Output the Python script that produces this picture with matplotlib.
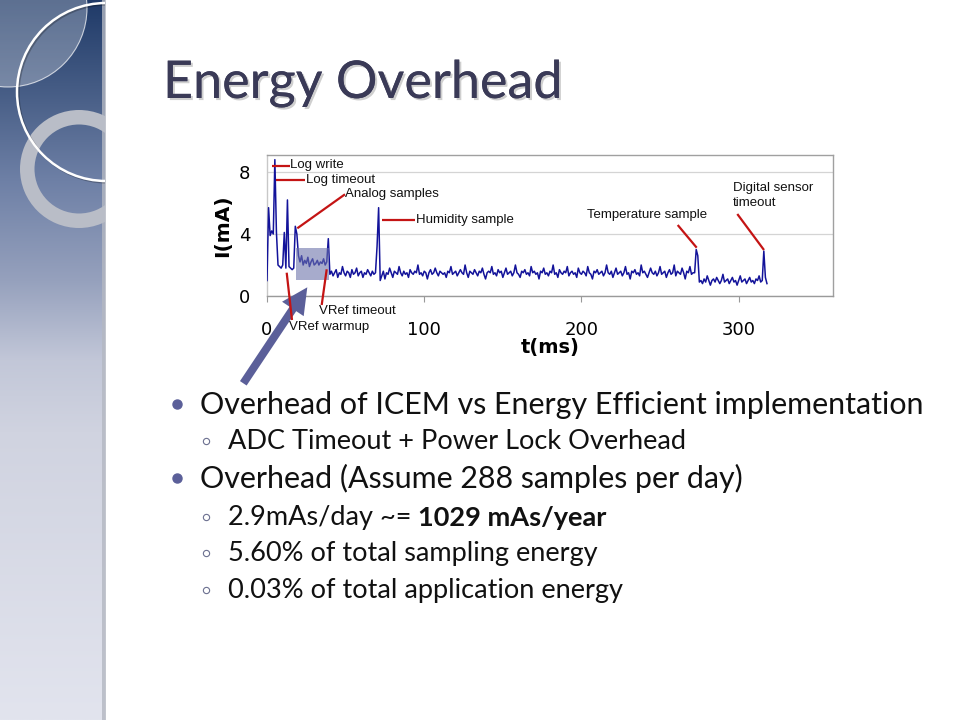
import numpy as np
import matplotlib
matplotlib.use("Agg")
import matplotlib.pyplot as plt
from matplotlib import patches, patheffects

# ---------------- data ----------------
startup_ma = [1.0, 5.7, 3.9, 4.2, 4.0, 8.8, 4.1, 2.0, 1.9, 1.8, 2.0, 4.1, 1.8,
              6.2, 1.9, 1.8, 1.7, 1.8, 4.5, 4.0, 2.6]
vref_warmup_ma = [2.2, 2.6, 2.0, 2.3, 2.1, 2.5, 1.9, 2.2, 2.4, 2.0, 2.1, 2.3,
                  2.0, 2.2, 2.1, 2.4, 2.0, 2.2]
vref_timeout_ma = [3.7]
idle_a_ma = [1.4, 1.6, 1.3, 1.5, 1.7, 1.2, 1.5, 1.4, 1.9, 1.5, 1.3, 1.6, 1.5,
             1.2, 1.7, 1.4, 1.5, 1.8, 1.3, 1.5, 1.6, 1.2, 1.5, 1.4, 1.7, 1.5,
             1.3, 1.6, 1.4, 1.5]
humidity_ma = [3.2, 5.7, 1.0]
idle_b_ma = [
    1.3, 1.6, 1.1, 1.5, 1.4, 1.8, 1.5, 1.2, 1.6, 1.5, 1.4, 1.9, 1.5, 1.3, 1.6, 1.4, 1.5, 1.2, 1.7, 1.5,
    1.4, 1.6, 1.5, 2.0, 1.4, 1.5, 1.3, 1.6, 1.5, 1.1, 1.5, 1.7, 1.4, 1.5, 1.8, 1.5, 1.3, 1.6, 1.5, 1.4,
    1.5, 1.2, 1.6, 1.5, 1.9, 1.4, 1.5, 1.6, 1.3, 1.5, 1.7, 1.5, 1.4, 2.0, 1.5, 1.2, 1.6, 1.5, 1.4, 1.7,
    1.5, 1.3, 1.6, 1.5, 1.8, 1.4, 1.1, 1.5, 1.6, 1.5, 1.9, 1.4, 1.5, 1.3, 1.7, 1.5, 1.6, 1.2, 1.5, 1.8,
    1.4, 1.5, 1.6, 1.3, 1.5, 2.0, 1.5, 1.4, 1.2, 1.6, 1.5, 1.7, 1.4, 1.5, 1.3, 1.9, 1.5, 1.6, 1.4, 1.5,
    1.1, 1.6, 1.5, 1.8, 1.4, 1.5, 1.3, 1.6, 1.5, 2.0, 1.4, 1.5, 1.2, 1.7, 1.5, 1.4, 1.6, 1.5, 1.9, 1.3,
    1.5, 1.6, 1.4, 1.5, 1.2, 1.8, 1.5, 1.4, 1.6, 1.5, 1.3, 1.9, 1.5, 1.4, 1.1, 1.6, 1.5, 1.7, 1.4, 1.5,
    1.6, 1.3, 1.5, 2.0, 1.5, 1.4, 1.6, 1.2, 1.5, 1.8, 1.4, 1.5, 1.6, 1.3, 1.5, 1.9, 1.4, 1.5, 1.1, 1.6,
    1.5, 1.7, 1.4, 1.5, 1.3, 2.0, 1.5, 1.6, 1.4, 1.2, 1.5, 1.8, 1.5, 1.4, 1.6, 1.3, 1.5, 1.9, 1.4, 1.5,
    1.6, 1.2, 1.5, 1.7, 1.4, 1.5, 2.0, 1.3, 1.6, 1.5, 1.4, 1.8, 1.5, 1.1, 1.6, 1.5, 1.9, 1.4, 1.5, 1.5]
temperature_ma = [3.0, 2.6, 0.9]
idle_c_ma = [
    1.0, 0.8, 1.1, 0.9, 1.3, 1.0, 0.7, 1.0, 1.1, 0.9, 1.2, 1.0, 0.8, 1.0, 1.4, 0.9, 1.0, 1.1, 0.8, 1.0,
    1.2, 0.9, 1.0, 0.7, 1.0, 1.3, 0.9, 1.0, 1.1, 0.8, 1.0, 1.2, 0.9, 1.0, 0.8, 1.1, 1.0, 1.3, 0.9, 1.0]
digital_ma = [2.9, 1.2, 0.8]

current_ma = np.array(startup_ma + vref_warmup_ma + vref_timeout_ma + idle_a_ma +
                      humidity_ma + idle_b_ma + temperature_ma + idle_c_ma + digital_ma)
time_ms = np.arange(len(current_ma))

highlight_t = [18.4, 39.4]     # shaded VRef warm-up window (ms)
highlight_i = [1.03, 3.08]     # (mA)

xticks = [0, 100, 200, 300]
yticks = [0, 4, 8]
x_label = "t(ms)"
y_label = "I(mA)"

annotation_labels = ["Log write", "Log timeout", "Analog samples", "Humidity sample",
                     "VRef warmup", "VRef timeout", "Temperature sample",
                     "Digital sensor\ntimeout"]

title = "Energy Overhead"
bullet_lines = [
    (0, "Overhead of ICEM vs Energy Efficient implementation"),
    (1, "ADC Timeout + Power Lock Overhead"),
    (0, "Overhead (Assume 288 samples per day)"),
    (1, "2.9mAs/day ~= "),
    (1, "5.60% of total sampling energy"),
    (1, "0.03% of total application energy"),
]
bold_tail = "1029 mAs/year"

# ---------------- figure ----------------
W, H = 960, 720
fig = plt.figure(figsize=(9.6, 7.2), dpi=100)
fig.patch.set_facecolor("white")

bg = fig.add_axes([0, 0, 1, 1], zorder=0)
bg.set_xlim(0, W); bg.set_ylim(H, 0); bg.axis("off")

# left decorative panel (vertical gradient)
stops = np.array([0.0, 0.14, 0.25, 0.39, 0.5, 0.6, 1.0])
cols = np.array([[0x1f, 0x3a, 0x68], [0x4b, 0x61, 0x89], [0x6e, 0x80, 0xa6],
                 [0x96, 0xa1, 0xbd], [0xc2, 0xc7, 0xd8], [0xd0, 0xd3, 0xe0],
                 [0xe2, 0xe4, 0xee]]) / 255.0
yy = np.linspace(0, 1, 360)
grad = np.stack([np.interp(yy, stops, cols[:, k]) for k in range(3)], axis=1)[:, None, :]
bg.imshow(grad, extent=(0, 105, H, 0), aspect="auto", zorder=1, interpolation="bilinear")
panel_clip = patches.Rectangle((0, 0), 105, H, transform=bg.transData, facecolor="none",
                               edgecolor="none")
bg.add_patch(panel_clip)
bg.add_patch(patches.Rectangle((102, 0), 3.5, H, facecolor="#b4b8c2", edgecolor="none",
                               alpha=0.8, zorder=2))

light = patches.Circle((8, 8), 79, facecolor="white", alpha=0.28, edgecolor="none", zorder=2)
bg.add_patch(light); light.set_clip_path(panel_clip)
light_edge = patches.Circle((8, 8), 79, facecolor="none", edgecolor="white", lw=0.8,
                            alpha=0.7, zorder=2)
bg.add_patch(light_edge); light_edge.set_clip_path(panel_clip)
ring = patches.Wedge((79, 169), 59, 0, 360, width=14.5, facecolor="#b9bdc7",
                     edgecolor="none", zorder=3)
bg.add_patch(ring); ring.set_clip_path(panel_clip)
arc = patches.Circle((106, 92), 89, facecolor="none", edgecolor="white", lw=1.8, zorder=4,
                     path_effects=[patheffects.SimpleLineShadow(offset=(1, -1), alpha=0.25),
                                   patheffects.Normal()])
bg.add_patch(arc); arc.set_clip_path(panel_clip)

# title
bg.text(163, 98, title, fontsize=37.5, family="Lato", color="#3a3a57", va="baseline",
        ha="left", zorder=5,
        path_effects=[patheffects.withSimplePatchShadow(offset=(1.5, -1.5),
                                                        shadow_rgbFace="#777777", alpha=0.35),
                      patheffects.Normal()])

# bullets
baselines = [414, 449, 488, 525, 561, 598]
fs = {0: 21.9, 1: 19.5}
xtext = {0: 200, 1: 228}
last_t = None
for (lvl, txt), yb in zip(bullet_lines, baselines):
    t = bg.text(xtext[lvl], yb, txt, fontsize=fs[lvl], family="Lato", color="#111111",
                va="baseline", ha="left", zorder=5)
    if lvl == 0:
        bg.plot(177, yb - 10, "o", ms=6.5, color="#5b5f99", mec="#5b5f99", zorder=5)
    else:
        bg.plot(206, yb - 8, "o", ms=4.5, mfc="white", mec="#6c7090", mew=0.8, zorder=5)
    if txt.startswith("2.9"):
        last_t = t
bg.annotate(bold_tail, xy=(1, 0), xycoords=last_t, va="bottom", ha="left",
            fontsize=fs[1], family="Lato", fontweight="bold", color="#111111", zorder=5)

# ---------------- chart ----------------
ax = fig.add_axes([267 / W, 1 - 296 / H, 566 / W, 141 / H], zorder=1)
ax.plot(time_ms, current_ma, color="#13139a", lw=1.1, zorder=3)
ax.add_patch(patches.Rectangle((highlight_t[0], highlight_i[0]),
                               highlight_t[1] - highlight_t[0],
                               highlight_i[1] - highlight_i[0],
                               facecolor="#6d73aa", alpha=0.6, edgecolor="none", zorder=4))
ax.set_xlim(0, 360)
ax.set_ylim(0, 9.1)
ax.set_xticks(xticks)
ax.set_yticks(yticks)
ax.tick_params(axis="x", length=4, width=0.8, color="#999999", pad=14, labelsize=13)
ax.tick_params(axis="y", length=0, pad=12, labelsize=13)
ax.yaxis.grid(True, color="#d4d4d4", lw=0.9, zorder=0)
for side, c in [("left", "#c8c8c8"), ("bottom", "#9a9a9a"), ("top", "#a0a0a0"),
                ("right", "#a0a0a0")]:
    ax.spines[side].set_color(c)
    ax.spines[side].set_linewidth(1.0)
ax.set_xlabel(x_label, fontsize=14, fontweight="bold", labelpad=-1)
ax.set_ylabel(y_label, fontsize=14.5, fontweight="bold", labelpad=5)

# ---------------- overlay: annotations & arrow ----------------
ov = fig.add_axes([0, 0, 1, 1], zorder=3)
ov.set_xlim(0, W); ov.set_ylim(H, 0); ov.axis("off"); ov.patch.set_alpha(0)

red = "#c41414"
lines_px = [((271.7, 165.5), (290, 165.5)),
            ((276, 180), (305, 180)),
            ((297.3, 228.3), (345, 194.3)),
            ((381.7, 220), (415, 220)),
            ((286.7, 272.7), (292, 320)),
            ((326.7, 269.3), (321.7, 305)),
            ((677.7, 225), (696.7, 247.7)),
            ((737.3, 214), (764, 250))]
text_px = [(290.5, 165), (305.5, 180), (345, 193.5), (415.5, 220), (289.3, 326.7),
           (319, 311), (587.3, 215), (733.3, 195.5)]
for (p0, p1), (tx, ty), lab in zip(lines_px, text_px, annotation_labels):
    ov.plot([p0[0], p1[0]], [p0[1], p1[1]], color=red, lw=1.6, solid_capstyle="butt")
    ov.text(tx, ty, lab, fontsize=9.5, family="Liberation Sans", color="#111111",
            va="center", ha="left", linespacing=1.4)

ov.add_patch(patches.FancyArrow(243.3, 383.3, 307.3 - 243.3, 287.3 - 383.3, width=8,
                                head_width=26, head_length=26, length_includes_head=True,
                                facecolor="#5b5f99", edgecolor="none"))

fig.savefig("out.png", dpi=100)
